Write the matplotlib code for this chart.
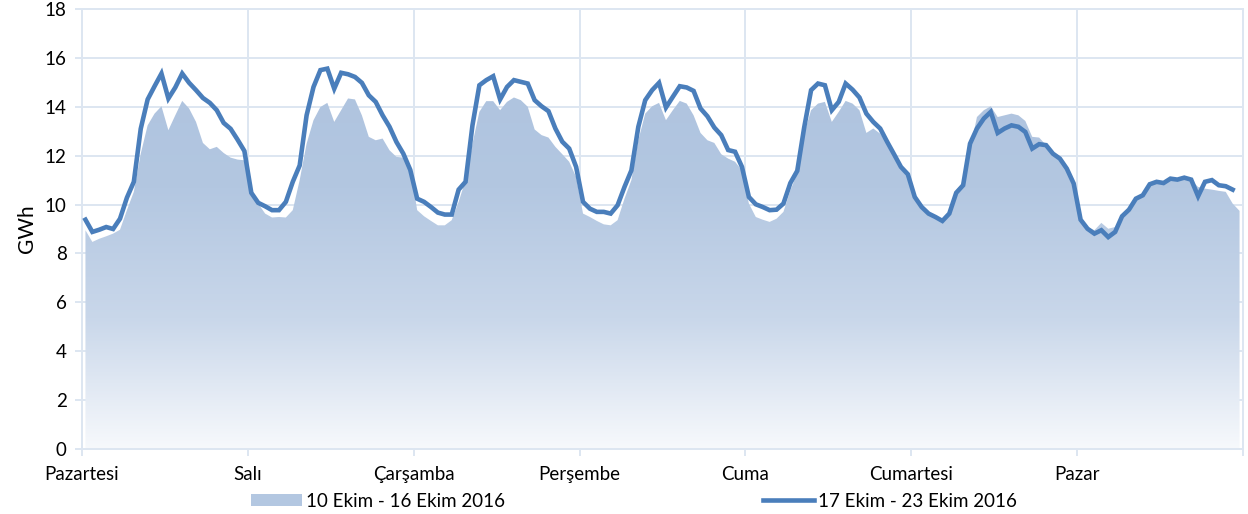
import numpy as np
import matplotlib.pyplot as plt
from matplotlib.colors import LinearSegmentedColormap
from matplotlib.patches import Patch
from matplotlib.lines import Line2D

plt.rcParams['font.family'] = ['Lato', 'DejaVu Sans']

days = ["Pazartesi", "Salı", "Çarşamba", "Perşembe", "Cuma", "Cumartesi", "Pazar"]
label_prev = "10 Ekim - 16 Ekim 2016"
label_curr = "17 Ekim - 23 Ekim 2016"

# hourly consumption, GWh (week of 10-16 Oct, area)
prev_week = [
    8.95, 8.47, 8.60, 8.70, 8.81, 8.97, 9.77, 10.52, 12.08, 13.24, 13.72, 14.02,
    13.04, 13.65, 14.24, 13.93, 13.38, 12.52, 12.26, 12.36, 12.11, 11.92, 11.84, 11.81,
    10.65, 10.04, 9.63, 9.47, 9.49, 9.47, 9.77, 11.00, 12.49, 13.45, 13.99, 14.16,
    13.38, 13.86, 14.34, 14.30, 13.65, 12.77, 12.63, 12.70, 12.22, 11.95, 11.92, 11.54,
    9.77, 9.52, 9.33, 9.15, 9.15, 9.36, 10.11, 11.00, 12.49, 13.79, 14.23, 14.23,
    13.86, 14.20, 14.38, 14.27, 14.00, 13.07, 12.84, 12.74, 12.36, 12.06, 11.75, 11.13,
    9.63, 9.49, 9.33, 9.19, 9.15, 9.36, 10.24, 11.00, 12.63, 13.72, 14.02, 14.16,
    13.45, 13.86, 14.24, 14.13, 13.65, 12.93, 12.63, 12.52, 12.06, 11.88, 11.75, 11.40,
    10.04, 9.49, 9.38, 9.29, 9.42, 9.70, 10.58, 11.27, 12.90, 13.86, 14.13, 14.20,
    13.38, 13.79, 14.24, 14.13, 13.86, 12.93, 13.11, 12.90, 12.49, 12.06, 11.61, 11.27,
    10.31, 9.90, 9.63, 9.49, 9.42, 9.70, 10.58, 10.93, 12.22, 13.58, 13.86, 14.02,
    13.58, 13.65, 13.72, 13.65, 13.42, 12.77, 12.74, 12.43, 12.08, 11.81, 11.47, 11.00,
    9.49, 9.08, 8.95, 9.25, 9.01, 9.08, 9.56, 9.83, 10.20, 10.38, 10.79, 10.88,
    10.88, 11.00, 11.00, 11.06, 11.00, 10.72, 10.65, 10.61, 10.56, 10.52, 10.04, 9.74,
]

# hourly consumption, GWh (week of 17-23 Oct, line; last hour missing)
curr_week = [
    9.38, 8.88, 8.97, 9.08, 9.00, 9.42, 10.28, 10.93, 13.10, 14.30, 14.84, 15.36,
    14.34, 14.79, 15.36, 14.98, 14.68, 14.36, 14.16, 13.86, 13.34, 13.10, 12.66, 12.19,
    10.48, 10.07, 9.93, 9.77, 9.77, 10.11, 10.93, 11.60, 13.65, 14.81, 15.50, 15.56,
    14.74, 15.39, 15.33, 15.22, 14.98, 14.47, 14.20, 13.65, 13.18, 12.56, 12.08, 11.42,
    10.24, 10.11, 9.90, 9.67, 9.59, 9.59, 10.61, 10.93, 13.24, 14.88, 15.09, 15.25,
    14.30, 14.81, 15.09, 15.02, 14.95, 14.27, 14.02, 13.82, 13.11, 12.57, 12.29, 11.54,
    10.11, 9.83, 9.70, 9.70, 9.63, 9.97, 10.72, 11.40, 13.18, 14.27, 14.68, 14.98,
    13.97, 14.41, 14.84, 14.79, 14.65, 13.93, 13.61, 13.15, 12.84, 12.23, 12.16, 11.54,
    10.31, 10.01, 9.90, 9.77, 9.79, 10.04, 10.88, 11.38, 13.15, 14.68, 14.95, 14.88,
    13.86, 14.20, 14.95, 14.70, 14.38, 13.72, 13.38, 13.11, 12.57, 12.06, 11.54, 11.24,
    10.31, 9.90, 9.63, 9.49, 9.33, 9.63, 10.48, 10.79, 12.49, 13.11, 13.52, 13.79,
    12.93, 13.11, 13.24, 13.18, 12.97, 12.29, 12.47, 12.43, 12.08, 11.88, 11.47, 10.86,
    9.38, 9.01, 8.81, 8.95, 8.67, 8.88, 9.52, 9.79, 10.24, 10.38, 10.83, 10.93,
    10.88, 11.06, 11.02, 11.10, 11.02, 10.34, 10.93, 11.00, 10.79, 10.75, 10.61,
]

grid_c = "#dde6f1"
line_c = "#4a7ebb"

fig = plt.figure(figsize=(12.48, 5.14), dpi=100)
ax = fig.add_axes([0.0657, 0.1265, 0.9303, 0.856])

x_prev = np.arange(len(prev_week))
x_curr = np.arange(len(curr_week))

# area with vertical gradient
poly = ax.fill_between(x_prev, prev_week, 0, color="none", lw=0, zorder=2)
cmap = LinearSegmentedColormap.from_list("g", ["#f7f9fc", "#c9d7ea", "#b3c7e1", "#aec3df"])
grad = np.linspace(0, 1, 256).reshape(-1, 1)
im = ax.imshow(grad, extent=[-0.5, 167.5, 0, 16], origin="lower", aspect="auto",
               cmap=cmap, zorder=2)
im.set_clip_path(poly.get_paths()[0], transform=ax.transData)

ax.plot(x_curr, curr_week, color=line_c, lw=3.3, zorder=3, solid_joinstyle="miter")

ax.set_xlim(-0.5, 167.5)
ax.set_ylim(0, 18)
ax.set_yticks(range(0, 19, 2))
ax.set_xticks([-0.5 + 24 * k for k in range(8)])
ax.set_xticklabels(days + [""])
ax.grid(True, color=grid_c, lw=1.4, zorder=0)
ax.set_axisbelow(True)
for s in ax.spines.values():
    s.set_color(grid_c)
    s.set_linewidth(1.4)
ax.tick_params(axis="both", colors=grid_c, labelcolor="black", labelsize=13.5, length=5, width=1.4)
ax.tick_params(axis="x", pad=7)
ax.tick_params(axis="y", pad=6)
ax.set_ylabel("GWh", fontsize=15, labelpad=6)

handles = [Patch(facecolor="#b3c7e1", edgecolor="none"),
           Line2D([], [], color=line_c, lw=3.3)]
fig.legend(handles, [label_prev, label_curr], loc="center", ncol=2,
           bbox_to_anchor=(0.508, 0.025), frameon=False, fontsize=13.5,
           handlelength=2.7, handleheight=0.6, handletextpad=0.2, columnspacing=13.8)

fig.savefig("out.png", dpi=100)
